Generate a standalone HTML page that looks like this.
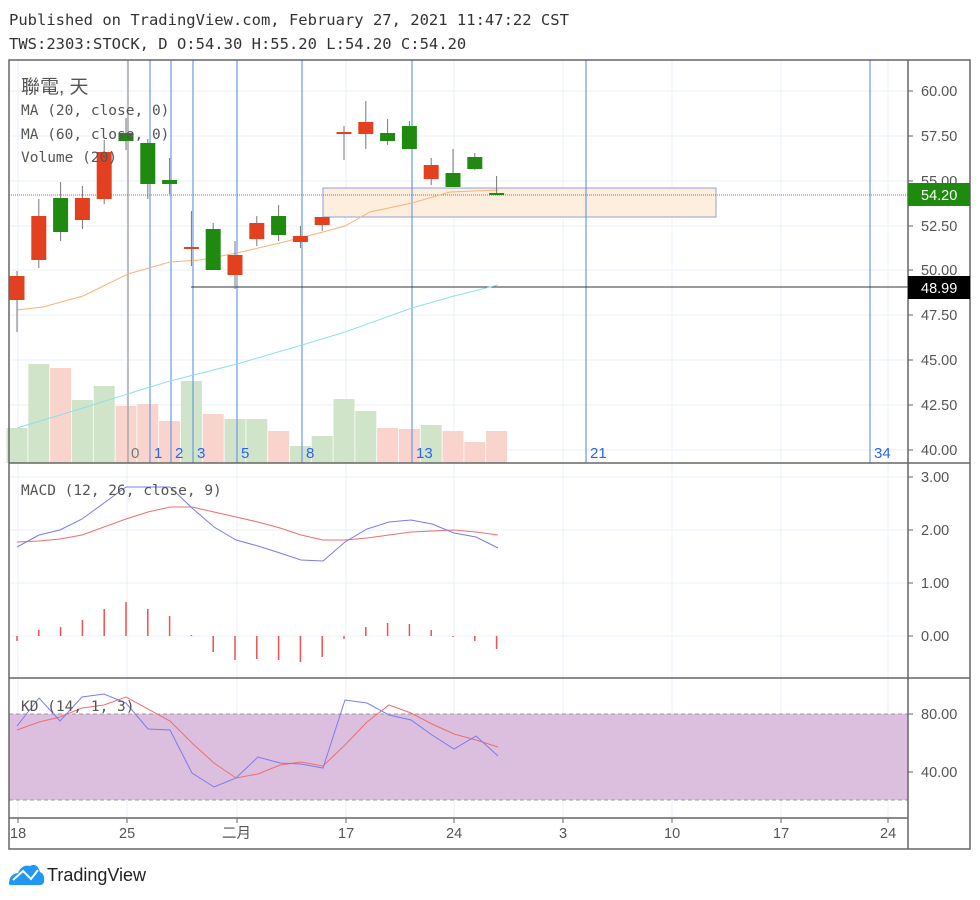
<!DOCTYPE html>
<html><head><meta charset="utf-8"><style>
body{margin:0;background:#fff;width:980px;height:900px;overflow:hidden}
svg{display:block}
.m{font-family:"DejaVu Sans Mono","Liberation Mono",monospace;fill:#555;font-size:14.5px}
.a{font-family:"Liberation Sans","Noto Sans CJK SC",sans-serif;fill:#555;font-size:14.5px}
.f{font-family:"Liberation Sans",sans-serif;fill:#2962ff;font-size:15px}
</style></head><body>
<svg id="s" width="980" height="900" xmlns="http://www.w3.org/2000/svg">
<rect width="980" height="900" fill="#fff"/>
<text x="9" y="25" class="m" style="font-size:15.5px;fill:#333">Published on TradingView.com, February 27, 2021 11:47:22 CST</text>
<text x="9" y="49" class="m" style="font-size:15.5px;fill:#333">TWS:2303:STOCK, D O:54.30 H:55.20 L:54.20 C:54.20</text>
<g id="grid" stroke="#e8f0f8" stroke-width="1"></g>
<rect x="323" y="188" width="393" height="29" fill="#fdeede" stroke="#8ea3d6" stroke-width="1"/>
<g id="vol"></g>
<g id="fib"></g>
<line x1="9" y1="195" x2="908" y2="195" stroke="#3aa43a" stroke-width="1" stroke-dasharray="1,1"/>
<line x1="191" y1="287" x2="908" y2="287" stroke="#333" stroke-width="1"/>
<polyline fill="none" stroke="#f9b27a" stroke-width="1" points="17,310 43,307 83,296 128,274 170,262 200,260 237,253 280,243 323,232 345,226 370,212 412,203 450,192 498,190"/>
<polyline fill="none" stroke="#8de0ea" stroke-width="1" points="17,428 83,408 150,387 170,381 237,364 302,345 345,332 412,308 454,296 498,285"/>
<g id="cdl"></g>
<text x="21" y="93" class="a" style="font-size:19px;fill:#555">聯電, 天</text>
<text x="21" y="115" class="m">MA (20, close, 0)</text>
<text x="21" y="139" class="m">MA (60, close, 0)</text>
<text x="21" y="162" class="m">Volume (20)</text>
<g class="f"><text x="131" y="458" style="fill:#777">0</text><text x="154" y="458">1</text><text x="175" y="458">2</text><text x="197" y="458">3</text><text x="241" y="458">5</text><text x="306" y="458">8</text><text x="416" y="458">13</text><text x="590" y="458">21</text><text x="874" y="458">34</text></g>
<!-- MACD -->
<g id="hist" stroke="#f05050" stroke-width="1.5"></g>
<polyline fill="none" stroke="#f06e6e" stroke-width="1" points="17,542 39,541 60,539 82,535 104,527 126,519 148,512 170,507 192,507 214,512 236,517 258,522 280,528 301,535 323,540 345,540 367,538 389,535 411,532 432,531 454,530 476,532 498,535"/>
<polyline fill="none" stroke="#7b7bef" stroke-width="1" points="17,547 39,535 60,530 82,519 104,503 126,487 170,487 192,508 214,527 236,540 258,546 280,553 301,560 323,561 345,542 367,529 389,522 411,520 432,524 454,533 476,537 498,548"/>
<text x="21" y="495" class="m">MACD (12, 26, close, 9)</text>
<!-- KD -->
<rect x="9" y="714" width="899" height="86" fill="#dcbfde"/>
<line x1="9" y1="714" x2="908" y2="714" stroke="#999" stroke-dasharray="4,3"/>
<line x1="9" y1="800" x2="908" y2="800" stroke="#999" stroke-dasharray="4,3"/>
<polyline fill="none" stroke="#f06e6e" stroke-width="1" points="17,730 39,722 60,717 82,708 104,705 126,697 170,721 192,743 214,763 236,778 258,774 280,765 301,762 323,766 345,745 367,722 389,705 411,713 432,724 454,734 476,740 498,747"/>
<polyline fill="none" stroke="#7b7bef" stroke-width="1" points="17,726 39,698 60,721 82,697 104,694 126,703 148,729 170,730 192,773 214,787 236,778 258,757 280,763 301,764 323,768 345,700 367,703 389,715 411,720 432,735 454,749 476,736 498,756"/>
<text x="21" y="711" class="m">KD (14, 1, 3)</text>
<!-- frames -->
<g fill="none" stroke="#666" stroke-width="1.5">
<rect x="9" y="60" width="961" height="789"/>
<line x1="908" y1="60" x2="908" y2="849"/>
<line x1="9" y1="463" x2="970" y2="463"/>
<line x1="9" y1="678" x2="970" y2="678"/>
<line x1="9" y1="818" x2="908" y2="818"/>
</g>
<g id="ticks" stroke="#666"></g>
<g class="a">
<text x="921" y="96">60.00</text><text x="921" y="141">57.50</text><text x="921" y="186">55.00</text><text x="921" y="231">52.50</text><text x="921" y="275">50.00</text><text x="921" y="320">47.50</text><text x="921" y="365">45.00</text><text x="921" y="410">42.50</text><text x="921" y="455">40.00</text>
<text x="921" y="482">3.00</text><text x="921" y="535">2.00</text><text x="921" y="588">1.00</text><text x="921" y="641">0.00</text>
<text x="921" y="719">80.00</text><text x="921" y="777">40.00</text>
<text x="10" y="838">18</text><text x="119" y="838">25</text><text x="222" y="838">二月</text><text x="338" y="838">17</text><text x="446" y="838">24</text><text x="559" y="838">3</text><text x="664" y="838">10</text><text x="773" y="838">17</text><text x="880" y="838">24</text>
</g>
<rect x="908" y="183" width="62" height="23" fill="#1e8a0e"/>
<text x="921" y="200" class="a" style="fill:#fff">54.20</text>
<rect x="908" y="276" width="62" height="23" fill="#000"/>
<text x="921" y="293" class="a" style="fill:#fff">48.99</text>
<!-- logo -->
<g fill="#2196f3"><path d="M9,884 Q9,874 18,873 Q22,864 30,866 Q37,862 40,872 Q45,874 44,882 Q43,885 40,885 L12,885 Q9,885 9,884Z"/></g>
<polyline points="13,880 23,871 31,879 38,870" fill="none" stroke="#fff" stroke-width="2"/>
<text x="47" y="881" font-family="Liberation Sans,sans-serif" font-size="18" fill="#222">TradingView</text>
</svg>
<script>
var NS="http://www.w3.org/2000/svg";
function el(g,t,a){var e=document.createElementNS(NS,t);for(var k in a)e.setAttribute(k,a[k]);document.getElementById(g).appendChild(e);return e;}
function X(i){return 17+21.8*i;}
[91,136,181,226,270,315,360,405,450,477,530,583,636,714,772].forEach(function(y){el("grid","line",{x1:9,y1:y,x2:908,y2:y});});
[18,127,237,346,454,563,672,781,888].forEach(function(x){el("grid","line",{x1:x,y1:60,x2:x,y2:818});el("ticks","line",{x1:x,y1:818,x2:x,y2:823});});
[91,136,181,226,270,315,360,405,450,477,530,583,636,714,772,195,287].forEach(function(y){el("ticks","line",{x1:908,y1:y,x2:913,y2:y});});
var V=[[428,'g'],[364,'g'],[368,'r'],[400,'g'],[386,'g'],[406,'r'],[404,'r'],[421,'r'],[381,'g'],[414,'r'],[419,'g'],[419,'g'],[431,'r'],[446,'g'],[436,'g'],[399,'g'],[411,'g'],[428,'r'],[429,'r'],[425,'g'],[431,'r'],[442,'r'],[431,'r']];
V.forEach(function(v,i){el("vol","rect",{x:X(i)-10.5,y:v[0],width:21,height:463-v[0],fill:v[1]=='g'?'#d0e4c9':'#f8d4cd'});});
el("fib","line",{x1:128,y1:60,x2:128,y2:463,stroke:"#aaa","stroke-width":1.5});
[150,171,193,237,302,412,586,870].forEach(function(x){el("fib","line",{x1:x,y1:60,x2:x,y2:463,stroke:"#6b9ae8","stroke-width":1.2});});
var C=[[276,300,271,332,'r'],[216,260,199,268,'r'],[198,232,182,241,'g'],[198,220,186,229,'r'],[152,199,140,204,'r'],[133,141,118,150,'g'],[143,184,139,199,'g'],[180,184,158,194,'g'],[247,249,211,266,'r'],[229,270,223,270,'g'],[255,275,241,289,'r'],[223,239,216,246,'r'],[216,235,205,241,'g'],[236,242,226,248,'r'],[217,225,217,231,'r'],[132,134,126,160,'r'],[122,134,101,149,'r'],[133,141,119,145,'g'],[126,149,121,149,'g'],[165,179,158,185,'r'],[173,187,149,187,'g'],[157,169,153,170,'g'],[193,195,176,195,'g']];
C.forEach(function(c,i){var col=c[4]=='g'?'#1f8a0f':'#e2401e';var x=X(i);
el("cdl","line",{x1:x,y1:c[2],x2:x,y2:c[3],stroke:'#777',"stroke-width":1});
el("cdl","rect",{x:x-7.5,y:c[0],width:15,height:Math.max(1.5,c[1]-c[0]),fill:col});});
var H=[641,630,627,620,609,602,609,616,635,652,660,659,660,662,657,639,627,623,624,630,637,641,649];
H.forEach(function(h,i){el("hist","line",{x1:X(i),y1:636,x2:X(i),y2:h});});
</script>
</body></html>
